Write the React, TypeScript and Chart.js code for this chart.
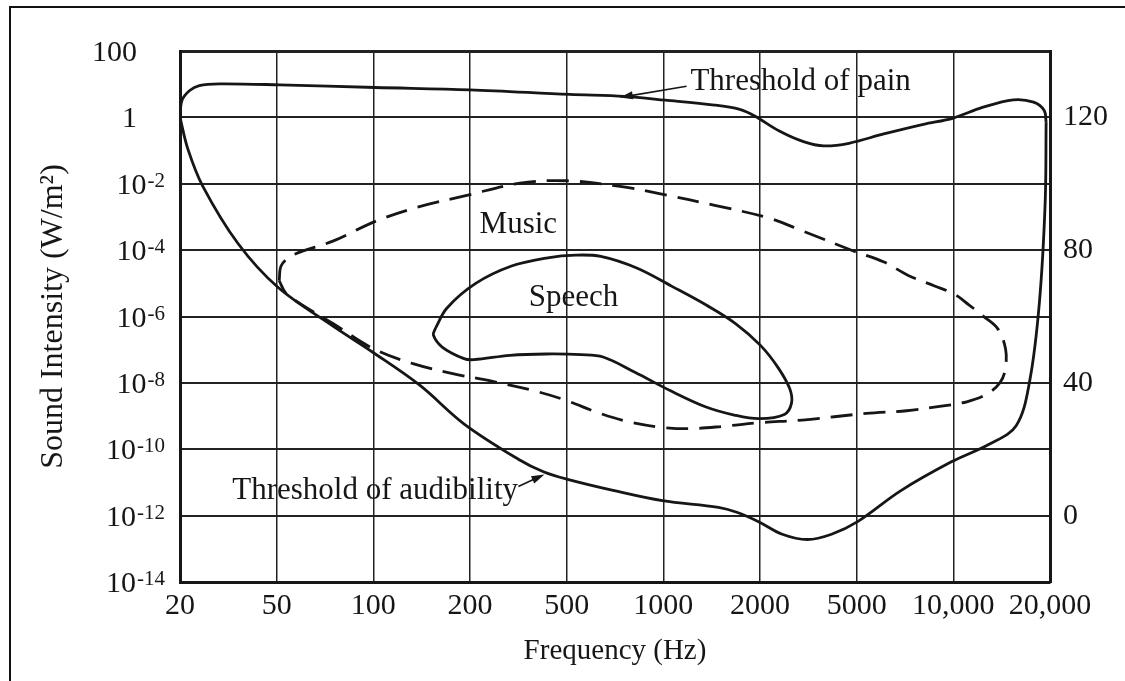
import { useEffect, useRef } from "react";
import { Chart, registerables } from "chart.js";

Chart.register(...registerables);

// x axis: frequency ticks drawn at equal spacing (position 0 = 20 Hz ... 9 = 20,000 Hz)
const freqLabels = ["20", "50", "100", "200", "500", "1000", "2000", "5000", "10,000", "20,000"];
// left axis: log10 of sound intensity (W/m²)
const intensityExponents = [-14, -12, -10, -8, -6, -4, -2, 0, 2];
// right axis: sound level (dB)
const dbTicks = [0, 40, 80, 120];

// [frequency position, log10 intensity]
const painCurve: [number, number][] = [
  [0, 0], [0.02, 0.51], [0.1, 0.81], [0.2, 0.96], [0.41, 1.01], [1.03, 0.98], [2.02, 0.9],
  [3.0, 0.83], [4.03, 0.69], [4.6, 0.63], [5.02, 0.52], [5.53, 0.37], [5.79, 0.24], [5.94, 0.05],
  [6.2, -0.41], [6.45, -0.73], [6.66, -0.86], [6.92, -0.78], [7.28, -0.5], [7.69, -0.21],
  [8.0, -0.02], [8.3, 0.3], [8.62, 0.53], [8.83, 0.46], [8.94, 0.21], [8.96, -0.15],
];

const audibilityCurve: [number, number][] = [
  [0, 0], [0.08, -0.94], [0.235, -2.07], [0.6, -3.8], [1.013, -5.12], [1.587, -6.3], [1.99, -7.07],
  [2.48, -8.07], [2.94, -9.24], [3.5, -10.3], [3.76, -10.68], [4.0, -10.9], [4.48, -11.24],
  [4.99, -11.55], [5.57, -11.75], [5.76, -11.9], [5.99, -12.19], [6.23, -12.56], [6.49, -12.72],
  [6.74, -12.56], [7.01, -12.18], [7.45, -11.26], [7.98, -10.38], [8.37, -9.85], [8.65, -9.29],
  [8.79, -7.94], [8.89, -5.59], [8.95, -2.57], [8.96, -0.15],
];

const musicCurve: [number, number][] = [
  [1.026, -4.92], [1.049, -4.46], [1.175, -4.14], [1.581, -3.73], [2.031, -3.12], [2.478, -2.69],
  [2.967, -2.35], [3.518, -1.98], [4.004, -1.91], [4.552, -2.08], [4.996, -2.32], [5.532, -2.65],
  [6.099, -3.04], [6.439, -3.42], [6.953, -4.01], [7.283, -4.36], [7.539, -4.77], [7.806, -5.08],
  [8.012, -5.33], [8.157, -5.64], [8.319, -6.01], [8.462, -6.38], [8.541, -6.99], [8.537, -7.6],
  [8.483, -7.99], [8.347, -8.34], [8.139, -8.57], [7.858, -8.71], [7.516, -8.84], [7.1, -8.92],
  [6.437, -9.12], [5.992, -9.2], [5.618, -9.31], [5.265, -9.38], [4.954, -9.33], [4.636, -9.17],
  [4.336, -8.91], [3.966, -8.5], [3.626, -8.21], [3.224, -7.95], [2.821, -7.72], [2.419, -7.43],
  [2.007, -6.98], [1.586, -6.22], [1.247, -5.62], [1.095, -5.3], [1.026, -4.92],
];

const speechCurve: [number, number][] = [
  [2.643, -6.35], [2.76, -5.75], [3.055, -5.01], [3.43, -4.48], [3.804, -4.23], [4.095, -4.15],
  [4.353, -4.19], [4.725, -4.54], [5.094, -5.1], [5.452, -5.67], [5.75, -6.22], [6.005, -6.87],
  [6.187, -7.54], [6.308, -8.18], [6.326, -8.61], [6.252, -8.95], [5.992, -9.08], [5.734, -8.97],
  [5.435, -8.72], [5.075, -8.24], [4.706, -7.68], [4.377, -7.22], [4.15, -7.15], [3.788, -7.13],
  [3.415, -7.17], [3.041, -7.3], [2.938, -7.27], [2.712, -6.92], [2.621, -6.56], [2.643, -6.35],
];

const annotationTexts = [
  { text: "Threshold of pain", x: 5.28, y: 1.06, align: "left" },
  { text: "Music", x: 3.5, y: -3.25, align: "center" },
  { text: "Speech", x: 4.07, y: -5.43, align: "center" },
  { text: "Threshold of audibility", x: 0.54, y: -11.25, align: "left" },
];

const annotationArrows = [
  { from: [5.24, 0.94], to: [4.55, 0.6] },
  { from: [3.5, -11.12], to: [3.77, -10.76] },
];

const FONT = '"Liberation Serif", "Times New Roman", Times, serif';
const INK = "#161616";

const overlayPlugin = {
  id: "overlay",
  afterDraw(chart: any) {
    const { ctx, chartArea, scales } = chart;
    const xs = scales.x;
    const ys = scales.y;
    ctx.save();
    ctx.fillStyle = INK;
    ctx.strokeStyle = INK;

    // left tick labels with superscript exponents
    const rightEdge = chartArea.left - 15;
    const plainRight = chartArea.left - 43;
    for (const e of intensityExponents) {
      const py = ys.getPixelForValue(e);
      ctx.textBaseline = "alphabetic";
      if (e === 2 || e === 0) {
        ctx.font = `30px ${FONT}`;
        ctx.textAlign = "right";
        ctx.fillText(e === 2 ? "100" : "1", plainRight, py + 10);
      } else {
        const sup = String(e);
        ctx.font = `21px ${FONT}`;
        const w = ctx.measureText(sup).width;
        ctx.textAlign = "left";
        ctx.fillText(sup, rightEdge - w, py + 3);
        ctx.font = `30px ${FONT}`;
        ctx.textAlign = "right";
        ctx.fillText("10", rightEdge - w - 1, py + 10);
      }
    }

    // in-plot labels
    ctx.font = `31px ${FONT}`;
    ctx.textBaseline = "middle";
    for (const a of annotationTexts) {
      ctx.textAlign = a.align as CanvasTextAlign;
      ctx.fillText(a.text, xs.getPixelForValue(a.x), ys.getPixelForValue(a.y));
    }

    // arrows
    ctx.lineWidth = 1.6;
    for (const ar of annotationArrows) {
      const x1 = xs.getPixelForValue(ar.from[0]);
      const y1 = ys.getPixelForValue(ar.from[1]);
      const x2 = xs.getPixelForValue(ar.to[0]);
      const y2 = ys.getPixelForValue(ar.to[1]);
      const ang = Math.atan2(y2 - y1, x2 - x1);
      ctx.beginPath();
      ctx.moveTo(x1, y1);
      ctx.lineTo(x2 - Math.cos(ang) * 8, y2 - Math.sin(ang) * 8);
      ctx.stroke();
      ctx.beginPath();
      ctx.moveTo(x2, y2);
      ctx.lineTo(x2 - Math.cos(ang) * 13 + Math.sin(ang) * 4, y2 - Math.sin(ang) * 13 - Math.cos(ang) * 4);
      ctx.lineTo(x2 - Math.cos(ang) * 13 - Math.sin(ang) * 4, y2 - Math.sin(ang) * 13 + Math.cos(ang) * 4);
      ctx.closePath();
      ctx.fill();
    }
    ctx.restore();
  },
};

const toPoints = (arr: [number, number][]) => arr.map(([x, y]) => ({ x, y }));

const curveStyle = {
  showLine: true,
  borderColor: INK,
  borderWidth: 2.8,
  pointRadius: 0,
  tension: 0.35,
  fill: false,
};

export default function App() {
  const canvasRef = useRef<HTMLCanvasElement | null>(null);

  useEffect(() => {
    if (!canvasRef.current) return;
    const chart = new Chart(canvasRef.current, {
      type: "scatter",
      data: {
        datasets: [
          { label: "Threshold of pain", data: toPoints(painCurve), ...curveStyle },
          { label: "Threshold of audibility", data: toPoints(audibilityCurve), ...curveStyle },
          { label: "Speech", data: toPoints(speechCurve), ...curveStyle },
          { label: "Music", data: toPoints(musicCurve), ...curveStyle, borderDash: [22, 11] },
        ],
      },
      options: {
        animation: false,
        responsive: false,
        devicePixelRatio: 1,
        layout: { padding: { top: 51, left: 0, right: 0, bottom: 0 } },
        plugins: { legend: { display: false }, tooltip: { enabled: false } },
        scales: {
          x: {
            type: "linear",
            min: 0,
            max: 9,
            afterBuildTicks: (s: any) => {
              s.ticks = freqLabels.map((_, i) => ({ value: i }));
            },
            afterFit: (s: any) => {
              s.height = 99;
            },
            ticks: {
              autoSkip: false,
              maxRotation: 0,
              padding: 6,
              color: INK,
              font: { family: FONT, size: 30 },
              callback: (v: any) => freqLabels[Math.round(v)],
            },
            grid: {
              color: "#222",
              lineWidth: (c: any) => (c.tick && c.tick.value === 9 ? 3 : 1.5),
              drawTicks: false,
            },
            border: { display: true, color: INK, width: 3 },
            title: {
              display: true,
              text: "Frequency (Hz)",
              color: INK,
              font: { family: FONT, size: 29 },
              padding: { top: 0, bottom: 12 },
            },
          },
          y: {
            type: "linear",
            position: "left",
            min: -14,
            max: 2,
            afterBuildTicks: (s: any) => {
              s.ticks = intensityExponents.map((v) => ({ value: v }));
            },
            afterFit: (s: any) => {
              s.width = 180;
            },
            ticks: { display: false },
            grid: {
              color: "#222",
              lineWidth: (c: any) => (c.tick && c.tick.value === 2 ? 3 : 2),
              drawTicks: false,
            },
            border: { display: true, color: INK, width: 3 },
            title: {
              display: true,
              text: "Sound Intensity (W/m²)",
              color: INK,
              font: { family: FONT, size: 32 },
              padding: { top: 34, bottom: 0 },
            },
          },
          db: {
            type: "linear",
            position: "right",
            min: -20,
            max: 140,
            afterBuildTicks: (s: any) => {
              s.ticks = dbTicks.map((v) => ({ value: v }));
            },
            afterFit: (s: any) => {
              s.width = 75;
            },
            ticks: {
              padding: 13,
              color: INK,
              font: { family: FONT, size: 30 },
            },
            grid: { display: false, drawTicks: false },
            border: { display: true, color: INK, width: 3 },
          },
        },
      } as any,
      plugins: [overlayPlugin],
    } as any);
    return () => chart.destroy();
  }, []);

  return (
    <div
      style={{
        position: "fixed",
        left: 0,
        top: 0,
        width: 1125,
        height: 681,
        background: "#fff",
        overflow: "hidden",
      }}
    >
      <div
        style={{
          position: "absolute",
          left: 9,
          top: 6,
          width: 1200,
          height: 800,
          borderTop: "2px solid #111",
          borderLeft: "2px solid #111",
        }}
      />
      <canvas
        ref={canvasRef}
        width={1125}
        height={681}
        style={{ position: "absolute", left: 0, top: 0, width: 1125, height: 681 }}
      />
    </div>
  );
}
